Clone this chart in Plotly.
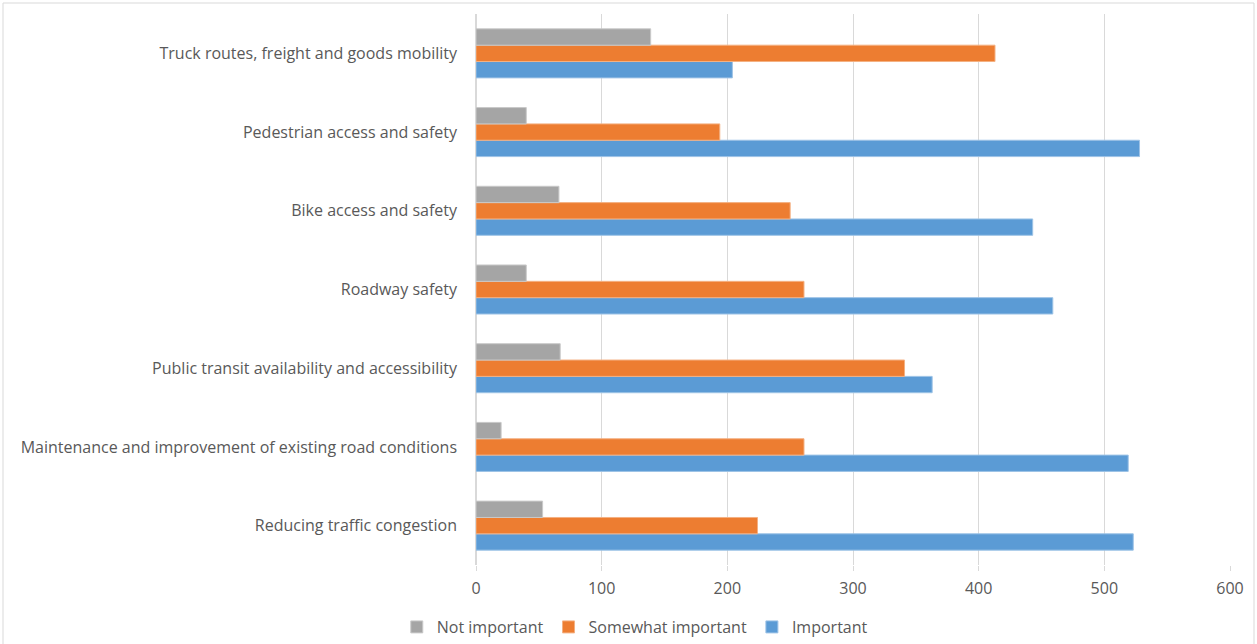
import plotly.graph_objects as go

# Survey priorities, listed bottom-to-top as they appear on the axis
categories = [
    "Reducing traffic congestion",
    "Maintenance and improvement of existing road conditions",
    "Public transit availability and accessibility",
    "Roadway safety",
    "Bike access and safety",
    "Pedestrian access and safety",
    "Truck routes, freight and goods mobility",
]
important = [523, 519, 363, 459, 443, 528, 204]
somewhat_important = [224, 261, 341, 261, 250, 194, 413]
not_important = [53, 20, 67, 40, 66, 40, 139]

x_ticks = [0, 100, 200, 300, 400, 500, 600]

series = [
    ("Important", important, "#5B9BD5", "#9DC3E6"),
    ("Somewhat important", somewhat_important, "#ED7D31", "#F4B183"),
    ("Not important", not_important, "#A5A5A5", "#C9C9C9"),
]

fig = go.Figure()
for name, vals, color, edge in series:
    fig.add_trace(go.Bar(
        y=categories, x=vals, name=name, orientation="h",
        marker=dict(color=color, line=dict(color=edge, width=1)),
    ))

font_family = "Open Sans, Segoe UI, sans-serif"
fig.update_layout(
    width=1257, height=644,
    margin=dict(l=476, r=27, t=14, b=79, autoexpand=False),
    barmode="group", bargap=0.377, bargroupgap=0,
    plot_bgcolor="white", paper_bgcolor="white",
    font=dict(family=font_family, size=16, color="#595959"),
    showlegend=True,
    legend=dict(
        orientation="h", traceorder="reversed",
        xref="container", yref="container",
        x=0.505, xanchor="center", y=-0.003, yanchor="bottom",
        font=dict(size=16, color="#595959"),
        itemwidth=30,
    ),
    xaxis=dict(
        range=[0, 600], tickvals=x_ticks, ticktext=[str(v) for v in x_ticks],
        showgrid=True, gridcolor="#D9D9D9", gridwidth=1,
        zeroline=True, zerolinecolor="#D9D9D9",
        ticks="outside", ticklen=5, tickcolor="#D9D9D9",
        ticklabelstandoff=4,
        showline=False,
    ),
    yaxis=dict(
        categoryorder="array", categoryarray=categories,
        showgrid=False, zeroline=False, showline=False,
        ticks="", ticklabelstandoff=18,
    ),
    shapes=[dict(
        type="rect", xref="paper", yref="paper",
        x0=-473 / 754, x1=1 + 24 / 754, y0=-100 / 551, y1=1 + 11 / 551,
        line=dict(color="#D9D9D9", width=1), fillcolor="rgba(0,0,0,0)",
        layer="below",
    )],
)

fig.write_html("out.html")
